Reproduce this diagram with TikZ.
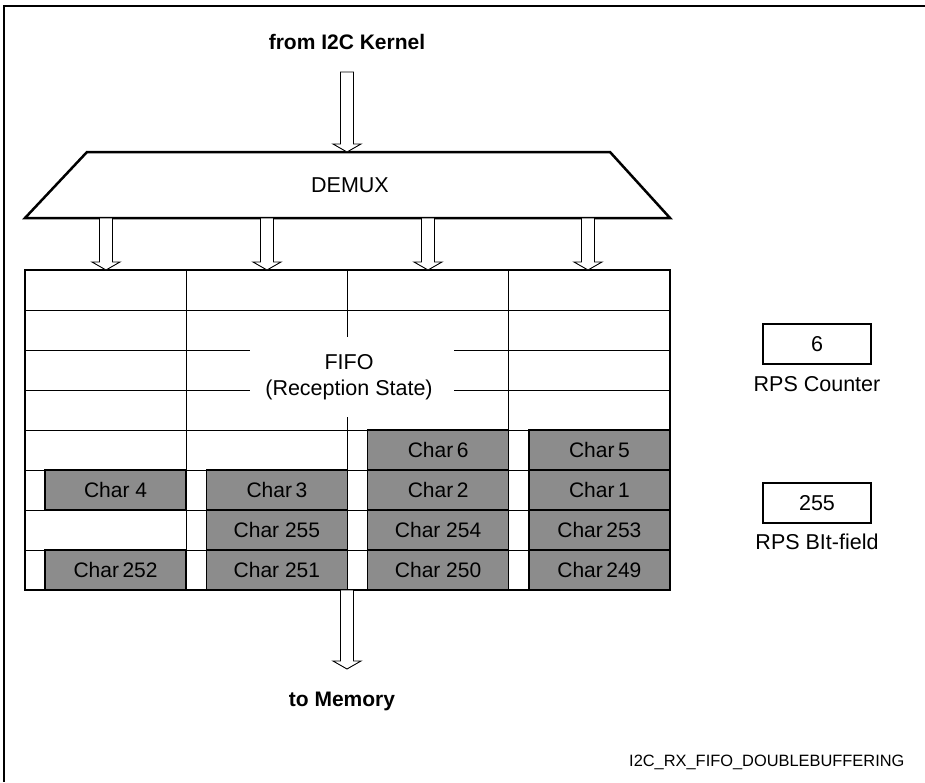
\documentclass[tikz,border=0pt]{standalone}
\usepackage{fontspec}
\setmainfont{Liberation Sans}
\usetikzlibrary{calc}
\definecolor{boxgray}{RGB}{140,140,140}
\newcommand{\blockarrow}[2]{%
  \draw[harrow] ($(#1)+(-6.5,0)$) -- ($(#2)+(-6.5,-8)$) -- ($(#2)+(-14,-8)$) -- (#2)
    -- ($(#2)+(14,-8)$) -- ($(#2)+(6.5,-8)$) -- ($(#1)+(6.5,0)$) -- cycle;}
\tikzset{
  thickline/.style={line width=2.5pt},
  thinline/.style={line width=0.9pt},
  harrow/.style={draw, line width=0.9pt, fill=white},
  charbox/.style={draw, line width=1.5pt, fill=boxgray, minimum width=141.25pt,
    minimum height=40pt, inner sep=0pt, font=\fontsize{21}{25}\selectfont},
  regbox/.style={draw, line width=2pt, minimum width=108pt, minimum height=40pt,
    inner sep=0pt, font=\fontsize{21.5}{25}\selectfont},
  lbl/.style={font=\fontsize{21.5}{25}\selectfont, inner sep=0pt},
  boldlbl/.style={font=\bfseries\fontsize{21}{25}\selectfont, inner sep=0pt},
}
\begin{document}
\begin{tikzpicture}[x=1pt,y=-1pt]
\useasboundingbox (0,0) rectangle (925,782);
% frame
\draw[line width=1.2pt] (925,6) -- (4,6) -- (4,782);
% titles
\node[boldlbl] (src) at (347,42) {from I2C Kernel};
\node[boldlbl] (dst) at (342,701) {to Memory};
\node[font=\fontsize{16.4}{19}\selectfont, inner sep=0pt, anchor=west] (tag) at (629,762) {I2C\_RX\_FIFO\_DOUBLEBUFFERING};
% demux
\coordinate (dtl) at (87,152);
\coordinate (dtr) at (610,152);
\coordinate (dbr) at (670,218);
\coordinate (dbl) at (25,218);
\draw[thickline, line join=miter] (dtl) -- (dtr) -- (dbr) -- (dbl) -- cycle;
\node[lbl] (demux) at (350,185) {DEMUX};
% grid
\draw[thinline] (25,310) -- (670,310);
\draw[thinline] (25,350) -- (250,350) (454,350) -- (670,350);
\draw[thinline] (25,390) -- (250,390) (454,390) -- (670,390);
\foreach \y in {430,470,510,550} \draw[thinline] (25,\y) -- (670,\y);
\draw[thinline] (186.25,270) -- (186.25,590);
\draw[thinline] (508.75,270) -- (508.75,590);
\draw[thinline] (347.5,270) -- (347.5,337) (347.5,417) -- (347.5,590);
\node[lbl, align=center] (fifo) at (349,377) {FIFO\\[1pt](Reception State)};
% char boxes
\node[charbox] (c6) at (438.1,450) {Char\,6};
\node[charbox] (c5) at (599.4,450) {Char\,5};
\node[charbox] (c4) at (115.6,490) {Char 4};
\node[charbox] (c3) at (276.9,490) {Char\,3};
\node[charbox] (c2) at (438.1,490) {Char\,2};
\node[charbox] (c1) at (599.4,490) {Char\,1};
\node[charbox] (c255) at (276.9,530) {Char 255};
\node[charbox] (c254) at (438.1,530) {Char 254};
\node[charbox] (c253) at (599.4,530) {Char\,253};
\node[charbox] (c252) at (115.6,570) {Char\,252};
\node[charbox] (c251) at (276.9,570) {Char 251};
\node[charbox] (c250) at (438.1,570) {Char 250};
\node[charbox] (c249) at (599.4,570) {Char\,249};
\node[draw, thickline, minimum width=645pt, minimum height=320pt, inner sep=0pt] (fifobox) at (347.5,430) {};
% arrows
\coordinate (inA) at (347,72);
\coordinate (inB) at (347,152);
\blockarrow{inA}{inB}
\foreach \x [count=\i] in {106,267,428,588} {
  \coordinate (o\i) at (\x,218);
  \coordinate (f\i) at (\x,270);
  \blockarrow{o\i}{f\i}
}
\coordinate (outA) at (347,590);
\coordinate (outB) at (347,669);
\blockarrow{outA}{outB}
% registers
\node[regbox] (cnt) at (817,344) {6};
\node[lbl] (cntl) at (817,384) {RPS Counter};
\node[regbox] (bf) at (817,503) {255};
\node[lbl] (bfl) at (817,542) {RPS BIt-field};
\end{tikzpicture}
\end{document}
